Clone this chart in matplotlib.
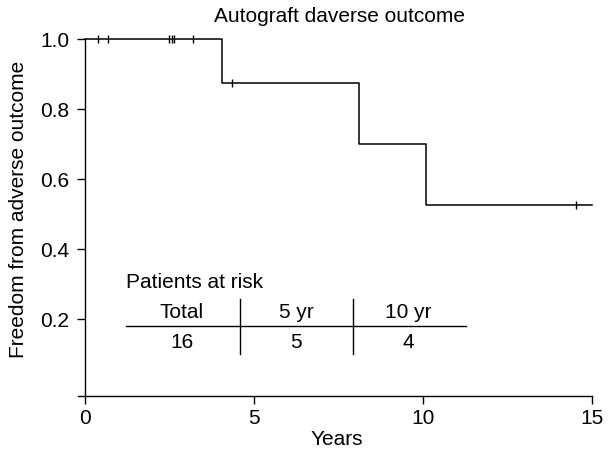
import matplotlib
matplotlib.use("Agg")
import matplotlib.pyplot as plt

plt.rcParams['font.family'] = ['Liberation Sans', 'DejaVu Sans']

# Kaplan-Meier step data
step_times = [0, 4.05, 8.1, 10.1, 15.0]
step_surv = [1.0, 0.875, 0.70, 0.525, 0.525]
# censored observations
cens_times = [0.38, 0.69, 2.49, 2.57, 2.65, 3.19, 4.36, 14.53]
cens_surv = [1.0, 1.0, 1.0, 1.0, 1.0, 1.0, 0.875, 0.525]

xticks = [0, 5, 10, 15]
yticks = [0.2, 0.4, 0.6, 0.8, 1.0]
ytick_labels = ["0.2", "0.4", "0.6", "0.8", "1.0"]

risk_headers = ["Total", "5 yr", "10 yr"]
risk_values = ["16", "5", "4"]

FS = 15
W, H = 612, 456
fig = plt.figure(figsize=(W/100, H/100), dpi=100)
ax = fig.add_axes([78/W, 1-397/H, (592-78)/W, (397-40)/H])

ax.step(step_times, step_surv, where='post', color='black', lw=1.1, clip_on=False)
ax.plot(cens_times, cens_surv, linestyle='none', marker='|', color='black',
        markersize=6, markeredgewidth=1.0, clip_on=False)

ax.set_xlim(-0.2, 15)
ax.set_ylim(-0.02, 1.0)
ax.spines['top'].set_visible(False)
ax.spines['right'].set_visible(False)
ax.spines['left'].set_position(('data', 0))
for s in ['left', 'bottom']:
    ax.spines[s].set_linewidth(1.0)
ax.set_xticks(xticks)
ax.set_yticks(yticks)
ax.set_yticklabels(ytick_labels)
ax.tick_params(axis='both', direction='out', length=6, width=1.0, labelsize=FS)
ax.tick_params(axis='x', pad=3)
ax.tick_params(axis='y', pad=5)
ax.set_xticklabels([str(t) for t in xticks])

fig.text(337/W, 1-440/H, "Years", ha='center', va='center', fontsize=FS)
fig.text(18.5/W, 1-209/H, "Freedom from adverse outcome", rotation=90,
         ha='center', va='center', fontsize=FS)
fig.text(340/W, 1-17/H, "Autograft daverse outcome", ha='center', va='center', fontsize=FS)

# Patients at risk table
ax.text(1.22, 0.306, "Patients at risk", ha='left', va='center', fontsize=FS)
ax.plot([1.21, 11.27], [0.18, 0.18], color='black', lw=1.0)
for xv in [4.59, 7.93]:
    ax.plot([xv, xv], [0.10, 0.257], color='black', lw=1.0)
col_x = [2.87, 6.26, 9.56]
for cx, hdr, val in zip(col_x, risk_headers, risk_values):
    ax.text(cx, 0.22, hdr, ha='center', va='center', fontsize=FS)
    ax.text(cx, 0.137, val, ha='center', va='center', fontsize=FS)

fig.savefig("out.png", dpi=100)
